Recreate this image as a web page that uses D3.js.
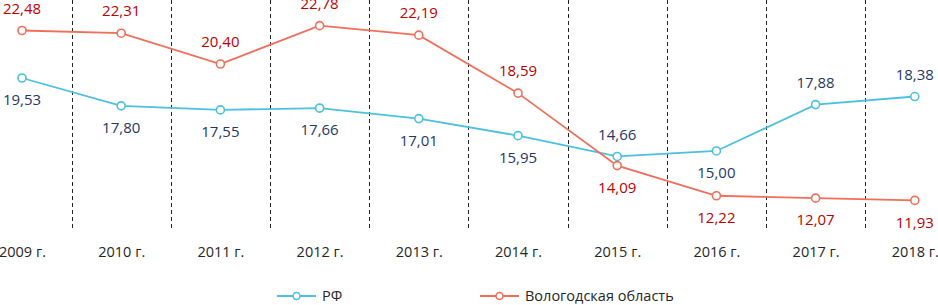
<!DOCTYPE html>
<html>
<head>
<meta charset="utf-8">
<script src="https://cdn.jsdelivr.net/npm/d3@7"></script>
<style>
	body { margin: 0; background: #fff; }
	svg { display: block; font-family: "Open Sans", sans-serif; }
</style>
</head>
<body>
<div id="chart"></div>
<script>
// data
var years = ["2009 г.", "2010 г.", "2011 г.", "2012 г.", "2013 г.", "2014 г.", "2015 г.", "2016 г.", "2017 г.", "2018 г."];
var rf = [19.53, 17.80, 17.55, 17.66, 17.01, 15.95, 14.66, 15.00, 17.88, 18.38];
var vologda = [22.48, 22.31, 20.40, 22.78, 22.19, 18.59, 14.09, 12.22, 12.07, 11.93];
// label above (1) or below (-1) the point
var rfLabelSide = [-1, -1, -1, -1, -1, -1, 1, -1, 1, 1];
var vologdaLabelSide = [1, 1, 1, 1, 1, 1, -1, -1, -1, -1];

var width = 938;
var height = 305;

var svg = d3.select("#chart")
	.append("svg")
	.attr("width", width)
	.attr("height", height);

//Scales
var step = 99.2;
var x = d3.scalePoint()
	.domain(years)
	.range([22, 22 + step * (years.length - 1)]);

var y = d3.scaleLinear()
	.domain([10, 24])
	.range([231.5, 6]);

//Dashed separators between categories
svg.append("g")
	.attr("class", "grid")
	.selectAll("line")
	.data(years.slice(1))
	.enter()
	.append("line")
	.attr("x1", function(d) { return Math.round(x(d) - step / 2) + 0.5; })
	.attr("x2", function(d) { return Math.round(x(d) - step / 2) + 0.5; })
	.attr("y1", 0)
	.attr("y2", 229)
	.attr("stroke", "#222")
	.attr("stroke-width", 1)
	.attr("stroke-dasharray", "4,3");

//X axis labels
var xAxis = svg.append("g")
	.attr("transform", "translate(0,247)")
	.call(d3.axisBottom(x).tickSize(0).tickPadding(0));
xAxis.select(".domain").remove();
xAxis.selectAll("text")
	.attr("font-family", "'Open Sans', sans-serif")
	.attr("font-size", "14.5px")
	.attr("fill", "#262626");

var series = [
	{ name: "РФ", values: rf, sides: rfLabelSide, color: "#4BC1DF", labelColor: "#1F3864" },
	{ name: "Вологодская область", values: vologda, sides: vologdaLabelSide, color: "#F16E59", labelColor: "#C00000" }
];

var line = d3.line()
	.x(function(d) { return x(d.year); })
	.y(function(d) { return y(d.value); });

series.forEach(function(s) {
	var pts = years.map(function(yr, i) { return { year: yr, value: s.values[i], side: s.sides[i] }; });

	svg.append("path")
		.datum(pts)
		.attr("fill", "none")
		.attr("stroke", s.color)
		.attr("stroke-width", 1.8)
		.attr("d", line);

	svg.append("g")
		.selectAll("circle")
		.data(pts)
		.enter()
		.append("circle")
		.attr("cx", function(d) { return x(d.year); })
		.attr("cy", function(d) { return y(d.value); })
		.attr("r", 4)
		.attr("fill", "#fff")
		.attr("stroke", s.color)
		.attr("stroke-width", 1.6);

	svg.append("g")
		.selectAll("text")
		.data(pts)
		.enter()
		.append("text")
		.attr("x", function(d) { return x(d.year); })
		.attr("y", function(d) { return y(d.value) - d.side * 22; })
		.attr("dy", "0.35em")
		.attr("text-anchor", "middle")
		.attr("font-size", "15px")
		.attr("fill", s.labelColor)
		.text(function(d) { return d.value.toFixed(2).replace(".", ","); });
});

//Legend
var legendData = [
	{ name: series[0].name, color: series[0].color, x: 277 },
	{ name: series[1].name, color: series[1].color, x: 480 }
];
var legend = svg.selectAll(".legend")
	.data(legendData)
	.enter()
	.append("g")
	.attr("class", "legend")
	.attr("transform", function(d) { return "translate(" + d.x + ",296)"; });
legend.append("line")
	.attr("x1", 0)
	.attr("x2", 39)
	.attr("stroke", function(d) { return d.color; })
	.attr("stroke-width", 1.8);
legend.append("circle")
	.attr("cx", 19.5)
	.attr("r", 3.5)
	.attr("fill", "#fff")
	.attr("stroke", function(d) { return d.color; })
	.attr("stroke-width", 1.5);
legend.append("text")
	.attr("x", 45)
	.attr("dy", "0.35em")
	.attr("font-size", "14.5px")
	.attr("fill", "#262626")
	.text(function(d) { return d.name; });
</script>
</body>
</html>
